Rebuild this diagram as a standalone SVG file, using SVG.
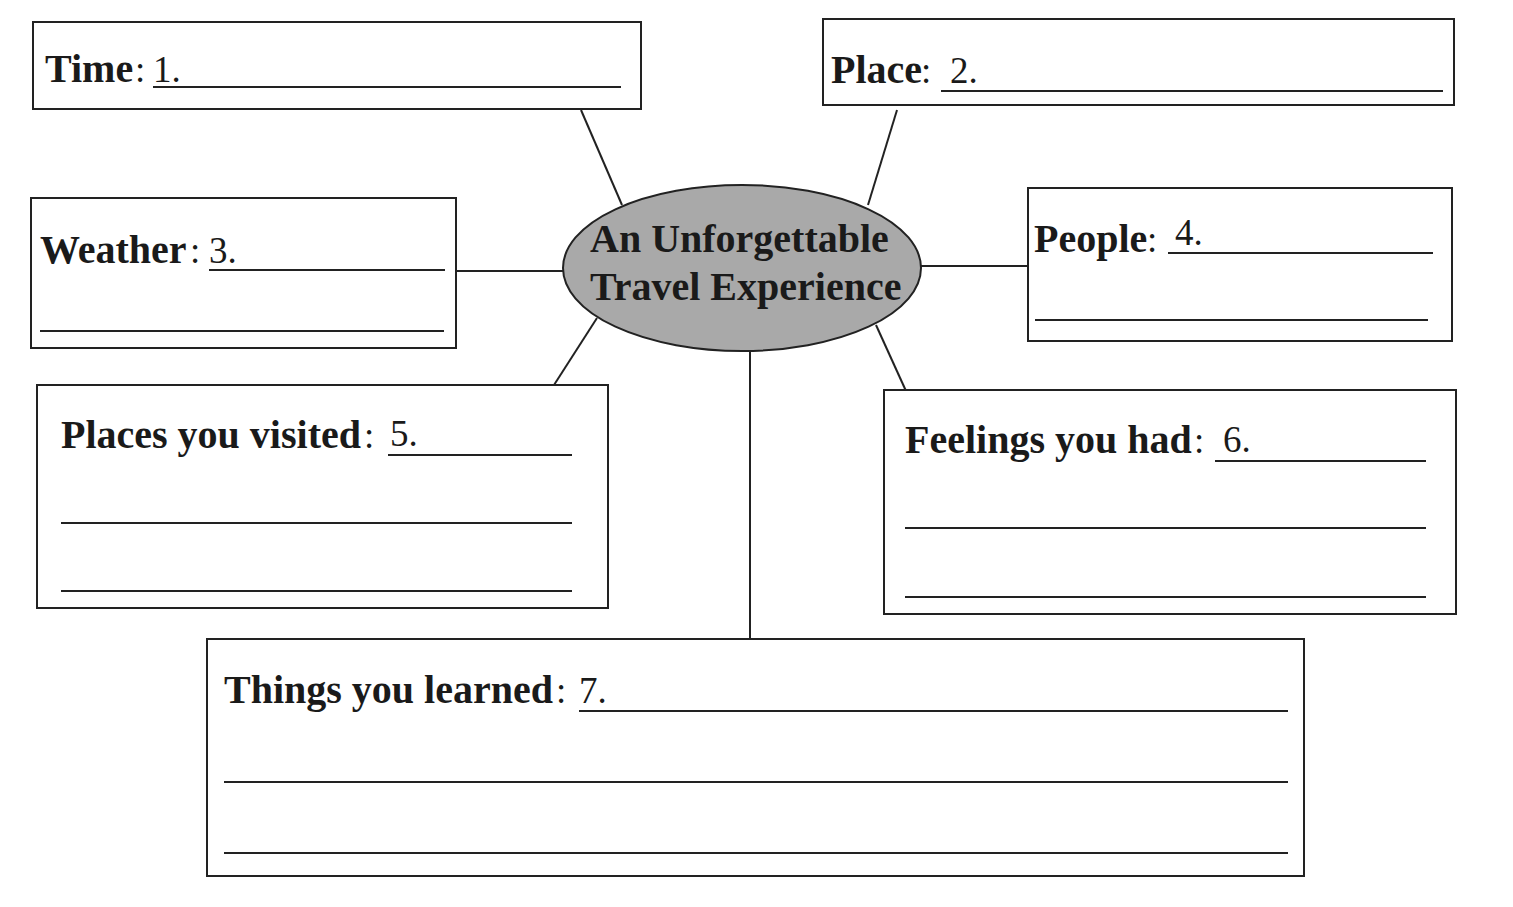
<svg xmlns="http://www.w3.org/2000/svg" width="1513" height="907" viewBox="0 0 1513 907">
<style>
.box{fill:#fff;stroke:#222;stroke-width:2}
.ln{stroke:#222;stroke-width:2;fill:none}
.lb{font-family:"Liberation Serif","Times New Roman",serif;font-weight:bold;font-size:40px;fill:#1a1a1a}
.nm{font-family:"Liberation Serif","Times New Roman",serif;font-size:37px;fill:#1a1a1a}
.ct{font-family:"Liberation Serif","Times New Roman",serif;font-weight:bold;font-size:40px;fill:#1a1a1a}
</style>
<rect width="1513" height="907" fill="#fff"/>
<g id="connectors" class="ln">
<line x1="581" y1="110" x2="622" y2="205"/>
<line x1="897" y1="110" x2="868" y2="205"/>
<line x1="456" y1="271" x2="563" y2="271"/>
<line x1="921" y1="266" x2="1028" y2="266"/>
<line x1="597" y1="318" x2="554" y2="385"/>
<line x1="876" y1="325" x2="906" y2="391"/>
<line x1="750" y1="351" x2="750" y2="639"/>
</g>
<g id="center">
<ellipse cx="742" cy="268" rx="179" ry="83" fill="#a9a9a9" stroke="#222" stroke-width="2"/>
<text class="ct" x="590" y="252">An Unforgettable</text>
<text class="ct" x="590" y="300">Travel Experience</text>
</g>
<g id="time">
<rect class="box" x="33" y="22" width="608" height="87"/>
<text class="lb" x="45" y="82">Time</text>
<text class="nm" x="135" y="82">:</text>
<text class="nm" x="153" y="82">1.</text>
<line class="ln" x1="153" y1="87" x2="621" y2="87"/>
</g>
<g id="place">
<rect class="box" x="823" y="19" width="631" height="86"/>
<text class="lb" x="831" y="83">Place</text>
<text class="nm" x="921" y="83">:</text>
<text class="nm" x="950" y="83">2.</text>
<line class="ln" x1="941" y1="91" x2="1443" y2="91"/>
</g>
<g id="weather">
<rect class="box" x="31" y="198" width="425" height="150"/>
<text class="lb" x="40" y="263">Weather</text>
<text class="nm" x="190" y="263">:</text>
<text class="nm" x="209" y="263">3.</text>
<line class="ln" x1="209" y1="270" x2="445" y2="270"/>
<line class="ln" x1="40" y1="331" x2="444" y2="331"/>
</g>
<g id="people">
<rect class="box" x="1028" y="188" width="424" height="153"/>
<text class="lb" x="1034" y="252">People</text>
<text class="nm" x="1147" y="252">:</text>
<text class="nm" x="1175" y="245">4.</text>
<line class="ln" x1="1168" y1="253" x2="1433" y2="253"/>
<line class="ln" x1="1035" y1="320" x2="1428" y2="320"/>
</g>
<g id="places-visited">
<rect class="box" x="37" y="385" width="571" height="223"/>
<text class="lb" x="61" y="448">Places you visited</text>
<text class="nm" x="364" y="448">:</text>
<text class="nm" x="390" y="446">5.</text>
<line class="ln" x1="388" y1="455" x2="572" y2="455"/>
<line class="ln" x1="61" y1="523" x2="572" y2="523"/>
<line class="ln" x1="61" y1="591" x2="572" y2="591"/>
</g>
<g id="feelings">
<rect class="box" x="884" y="390" width="572" height="224"/>
<text class="lb" x="905" y="453">Feelings you had</text>
<text class="nm" x="1194" y="453">:</text>
<text class="nm" x="1223" y="452">6.</text>
<line class="ln" x1="1215" y1="461" x2="1426" y2="461"/>
<line class="ln" x1="905" y1="528" x2="1426" y2="528"/>
<line class="ln" x1="905" y1="597" x2="1426" y2="597"/>
</g>
<g id="things-learned">
<rect class="box" x="207" y="639" width="1097" height="237"/>
<text class="lb" x="224" y="703">Things you learned</text>
<text class="nm" x="556" y="703">:</text>
<text class="nm" x="579" y="703">7.</text>
<line class="ln" x1="579" y1="711" x2="1288" y2="711"/>
<line class="ln" x1="224" y1="782" x2="1288" y2="782"/>
<line class="ln" x1="224" y1="853" x2="1288" y2="853"/>
</g>
</svg>
